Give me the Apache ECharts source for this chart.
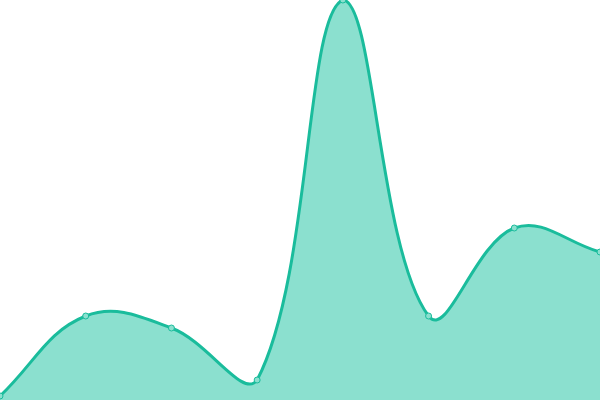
<!DOCTYPE html>
<html>
<head>
<meta charset="utf-8">
<script src="https://cdn.jsdelivr.net/npm/echarts@6/dist/echarts.min.js"></script>
<style>
html, body { margin: 0; padding: 0; background: #fff; }
#chart { width: 600px; height: 400px; }
</style>
</head>
<body>
<div id="chart"></div>
<script>
// 数据
var categories = ['1', '2', '3', '4', '5', '6', '7', '8'];
var values = [1, 21, 18, 5, 100, 21, 43, 37];

var lineColor = '#1abc9c';
var fillColor = '#8be0cf';
var tension = 0.4;

var chart = echarts.init(document.getElementById('chart'));

// 按 tension 计算样条控制点（控制点限制在绘图区内）
function splineControls(pts, area) {
    var ctrl = [];
    for (var i = 0; i < pts.length; i++) {
        var p0 = pts[i - 1] || pts[i];
        var p1 = pts[i];
        var p2 = pts[i + 1] || pts[i];
        var d01 = Math.hypot(p1[0] - p0[0], p1[1] - p0[1]);
        var d12 = Math.hypot(p2[0] - p1[0], p2[1] - p1[1]);
        var s01 = d01 / (d01 + d12) || 0;
        var s12 = d12 / (d01 + d12) || 0;
        var fa = tension * s01;
        var fb = tension * s12;
        var prev = [p1[0] - fa * (p2[0] - p0[0]), p1[1] - fa * (p2[1] - p0[1])];
        var next = [p1[0] + fb * (p2[0] - p0[0]), p1[1] + fb * (p2[1] - p0[1])];
        ctrl.push({ prev: cap(prev, area), next: cap(next, area) });
    }
    return ctrl;
}

function cap(p, area) {
    return [
        Math.min(Math.max(p[0], area.x), area.x + area.width),
        Math.min(Math.max(p[1], area.y), area.y + area.height)
    ];
}

function renderCurve(params, api) {
    if (params.dataIndexInside !== 0) return;
    var area = params.coordSys;
    var pts = values.map(function(v, i) { return api.coord([i, v]); });
    var ctrl = splineControls(pts, area);
    var d = 'M' + pts[0][0] + ' ' + pts[0][1];
    for (var i = 1; i < pts.length; i++) {
        var c1 = ctrl[i - 1].next, c2 = ctrl[i].prev;
        d += ' C' + c1[0] + ' ' + c1[1] + ' ' + c2[0] + ' ' + c2[1] + ' ' + pts[i][0] + ' ' + pts[i][1];
    }
    var base = api.coord([0, 0])[1];
    var areaPath = d + ' L' + pts[pts.length - 1][0] + ' ' + base + ' L' + pts[0][0] + ' ' + base + ' Z';
    return {
        type: 'group',
        children: [
            { type: 'path', shape: { pathData: areaPath }, style: { fill: fillColor, stroke: null } },
            { type: 'path', shape: { pathData: d }, style: { fill: null, stroke: lineColor, lineWidth: 3, lineJoin: 'round' } }
        ]
    };
}

var option = {
    animation: false,
    grid: { left: 0, right: 0, top: 0, bottom: 0 },
    xAxis: {
        type: 'category',
        boundaryGap: false,
        data: categories,
        show: false
    },
    yAxis: {
        type: 'value',
        min: 0,
        max: 'dataMax',
        show: false
    },
    series: [
        {
            type: 'custom',
            renderItem: renderCurve,
            data: values.map(function(v, i) { return [i, v]; }),
            encode: { x: 0, y: 1 },
            clip: false,
            z: 1
        },
        {
            type: 'line',
            data: values,
            symbol: 'circle',
            symbolSize: 6,
            lineStyle: { opacity: 0 },
            itemStyle: { color: fillColor, borderColor: lineColor, borderWidth: 1 },
            z: 2
        }
    ]
};

chart.setOption(option);
</script>
</body>
</html>
